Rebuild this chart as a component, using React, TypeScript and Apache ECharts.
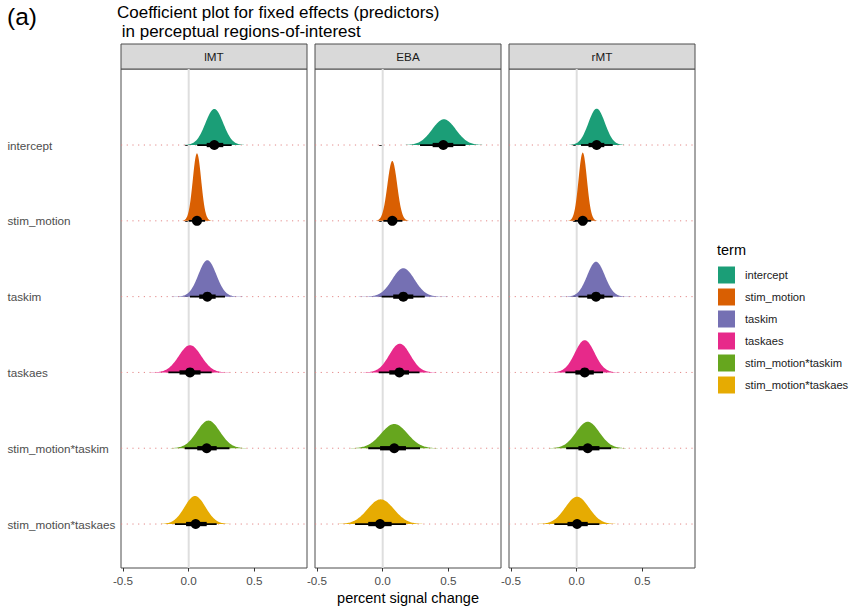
import React, { useEffect, useRef } from "react";
import * as echarts from "echarts";

const PANELS = ["lMT", "EBA", "rMT"];
const TERMS = ["intercept", "stim_motion", "taskim", "taskaes", "stim_motion*taskim", "stim_motion*taskaes"];
const TERM_COLORS = ["#1B9E77", "#D95F02", "#7570B3", "#E7298A", "#66A61E", "#E6AB02"];
const ROW_POS = [6, 5, 4, 3, 2, 1];
const X_TICKS = [-0.5, 0, 0.5];

// [panel][term] in TERMS order
const MEDIAN = [
  [0.195, 0.063, 0.142, 0.01, 0.137, 0.053],
  [0.461, 0.073, 0.157, 0.127, 0.088, -0.02],
  [0.152, 0.046, 0.147, 0.061, 0.084, 0.003],
];
const LO95 = [
  [0.065, 0.0, 0.01, -0.155, -0.03, -0.105],
  [0.284, 0.005, -0.008, -0.03, -0.11, -0.21],
  [0.033, -0.015, 0.013, -0.086, -0.08, -0.17],
];
const HI95 = [
  [0.327, 0.125, 0.276, 0.175, 0.31, 0.213],
  [0.63, 0.15, 0.32, 0.28, 0.284, 0.177],
  [0.274, 0.11, 0.274, 0.2, 0.262, 0.173],
];
const LO66 = [
  [0.137, 0.03, 0.08, -0.07, 0.065, -0.02],
  [0.38, 0.04, 0.08, 0.05, -0.02, -0.11],
  [0.09, 0.015, 0.08, -0.01, 0.013, -0.07],
];
const HI66 = [
  [0.263, 0.095, 0.205, 0.09, 0.213, 0.137],
  [0.537, 0.11, 0.233, 0.2, 0.177, 0.068],
  [0.21, 0.08, 0.21, 0.13, 0.173, 0.084],
];
const SLAB_MODE = [
  [0.195, 0.063, 0.142, 0.01, 0.15, 0.048],
  [0.466, 0.073, 0.157, 0.13, 0.088, -0.015],
  [0.152, 0.046, 0.147, 0.061, 0.084, 0.003],
];
const SLAB_SD = [
  [0.068, 0.032, 0.068, 0.085, 0.087, 0.08],
  [0.09, 0.037, 0.085, 0.08, 0.1, 0.1],
  [0.063, 0.032, 0.067, 0.075, 0.088, 0.09],
];
const SLAB_HEIGHT = [
  [0.475, 0.89, 0.48, 0.36, 0.365, 0.37],
  [0.34, 0.79, 0.375, 0.38, 0.32, 0.326],
  [0.48, 0.9, 0.46, 0.426, 0.35, 0.36],
];

const FONT = "'Liberation Sans', Arial, sans-serif";
const GRID_LEFT = [121, 315, 509];
const GRID_W = 186;
const GRID_TOP = 69;
const GRID_H = 499;
const X_MIN = -0.515;
const X_MAX = 0.9;
const Y_MIN = 0.42;
const Y_MAX = 7.003;

function renderTerm(params: any, api: any) {
  const base = api.value(0);
  const mode = api.value(1);
  const sd = api.value(2);
  const h = api.value(3);
  const med = api.value(4);
  const l66 = api.value(5);
  const h66 = api.value(6);
  const l95 = api.value(7);
  const h95 = api.value(8);
  const color = api.visual("color");
  const lo = mode - 4 * sd;
  const hi = mode + 4 * sd;
  const pts: number[][] = [api.coord([lo, base])];
  const N = 120;
  for (let i = 0; i <= N; i++) {
    const x = lo + ((hi - lo) * i) / N;
    const z = (x - mode) / sd;
    pts.push(api.coord([x, base + h * Math.exp(-0.5 * z * z)]));
  }
  pts.push(api.coord([hi, base]));
  const a95 = api.coord([l95, base]);
  const b95 = api.coord([h95, base]);
  const a66 = api.coord([l66, base]);
  const b66 = api.coord([h66, base]);
  const m = api.coord([med, base]);
  return {
    type: "group",
    children: [
      { type: "polygon", shape: { points: pts }, style: { fill: color, stroke: null } },
      { type: "line", shape: { x1: a95[0], y1: a95[1], x2: b95[0], y2: b95[1] }, style: { stroke: "#000", lineWidth: 1.8 } },
      { type: "line", shape: { x1: a66[0], y1: a66[1], x2: b66[0], y2: b66[1] }, style: { stroke: "#000", lineWidth: 4.3 } },
      { type: "circle", shape: { cx: m[0], cy: m[1], r: 5 }, style: { fill: "#000" } },
    ],
  };
}

export default function App() {
  const ref = useRef<HTMLDivElement>(null);
  useEffect(() => {
    document.body.style.margin = "0";
    const chart = echarts.init(ref.current!, null, { renderer: "svg" });

    const grids = PANELS.map((_, p) => ({
      left: GRID_LEFT[p],
      top: GRID_TOP,
      width: GRID_W,
      height: GRID_H,
      show: true,
      borderColor: "#4d4d4d",
      borderWidth: 1,
      backgroundColor: "transparent",
      outerBoundsMode: "none",
      containLabel: false,
    }));

    const xAxes = PANELS.map((_, p) => ({
      type: "value",
      gridIndex: p,
      min: X_MIN,
      max: X_MAX,
      axisLine: { show: false },
      splitLine: { show: false },
      axisTick: { show: true, length: 3.5, customValues: X_TICKS, lineStyle: { color: "#333", width: 1 } },
      axisLabel: {
        customValues: X_TICKS,
        formatter: (v: number) => v.toFixed(1),
        margin: 6,
        fontSize: 11.7,
        color: "#4d4d4d",
        fontFamily: FONT,
      },
      ...(p === 1
        ? {
            name: "percent signal change",
            nameLocation: "middle",
            nameGap: 21,
            nameTextStyle: { fontSize: 14.5, color: "#000", fontFamily: FONT },
          }
        : {}),
    }));

    const yAxes = PANELS.map((_, p) => ({
      type: "value",
      gridIndex: p,
      min: Y_MIN,
      max: Y_MAX,
      axisLine: { show: false },
      splitLine: { show: false },
      axisTick: { show: true, length: 3.5, customValues: ROW_POS, lineStyle: { color: "#333", width: 1 } },
      axisLabel:
        p === 0
          ? {
              show: true,
              customValues: ROW_POS,
              formatter: (v: number) => TERMS[ROW_POS.indexOf(v)] ?? "",
              align: "left",
              margin: 113.5,
              fontSize: 11.7,
              color: "#4d4d4d",
              fontFamily: FONT,
            }
          : { show: false },
    }));

    const series: any[] = [];
    PANELS.forEach((_, p) => {
      series.push({
        type: "custom",
        name: "_rows" + p,
        xAxisIndex: p,
        yAxisIndex: p,
        z: 1,
        silent: true,
        encode: { x: 0, y: 1 },
        data: ROW_POS.map((r) => [0, r]),
        renderItem: (params: any, api: any) => {
          const cs = params.coordSys;
          const y = api.coord([0, api.value(1)])[1];
          return {
            type: "line",
            shape: { x1: cs.x, y1: y, x2: cs.x + cs.width, y2: y },
            style: { stroke: "#e38888", lineWidth: 1, lineDash: [1.2, 4.5] },
          };
        },
      });
      series.push({
        type: "custom",
        name: "_zero" + p,
        xAxisIndex: p,
        yAxisIndex: p,
        z: 2,
        silent: true,
        encode: { x: 0, y: 1 },
        data: [[0, Y_MIN]],
        renderItem: (params: any, api: any) => {
          const cs = params.coordSys;
          const x = api.coord([api.value(0), Y_MIN])[0];
          return {
            type: "line",
            shape: { x1: x, y1: cs.y, x2: x, y2: cs.y + cs.height },
            style: { stroke: "#dedede", lineWidth: 2 },
          };
        },
      });
      TERMS.forEach((term, t) => {
        series.push({
          type: "custom",
          name: term,
          xAxisIndex: p,
          yAxisIndex: p,
          z: 3,
          encode: { x: 1, y: 0 },
          itemStyle: { color: TERM_COLORS[t] },
          data: [
            [
              ROW_POS[t],
              SLAB_MODE[p][t],
              SLAB_SD[p][t],
              SLAB_HEIGHT[p][t],
              MEDIAN[p][t],
              LO66[p][t],
              HI66[p][t],
              LO95[p][t],
              HI95[p][t],
            ],
          ],
          renderItem: renderTerm,
        });
      });
    });

    const graphics: any[] = [
      {
        type: "text",
        left: 7,
        top: 4,
        style: { text: "(a)", font: `24.5px ${FONT}`, fill: "#000" },
      },
      {
        type: "text",
        left: 717,
        top: 242,
        style: { text: "term", font: `14.5px ${FONT}`, fill: "#000" },
      },
    ];
    PANELS.forEach((name, p) => {
      graphics.push({
        type: "rect",
        shape: { x: GRID_LEFT[p], y: 44, width: GRID_W, height: 25 },
        style: { fill: "#d9d9d9", stroke: "#4d4d4d", lineWidth: 1 },
      });
      graphics.push({
        type: "text",
        x: GRID_LEFT[p] + GRID_W / 2,
        y: 56.5,
        style: {
          text: name,
          font: `11.7px ${FONT}`,
          fill: "#1a1a1a",
          textAlign: "center",
          textVerticalAlign: "middle",
        },
      });
    });

    chart.setOption({
      animation: false,
      backgroundColor: "#fff",
      title: {
        text: "Coefficient plot for fixed effects (predictors)\n in perceptual regions-of-interest",
        left: 117,
        top: 3.5,
        padding: 0,
        textStyle: { fontSize: 17, fontWeight: "normal", color: "#000", lineHeight: 18.5, fontFamily: FONT },
      },
      legend: {
        orient: "vertical",
        left: 718,
        top: 266.5,
        padding: 0,
        icon: "rect",
        itemWidth: 17,
        itemHeight: 17,
        itemGap: 5,
        selectedMode: false,
        textStyle: { fontSize: 11.2, color: "#1a1a1a", fontFamily: FONT, padding: [0, 0, 0, 5] },
        data: TERMS.map((t, i) => ({ name: t, itemStyle: { color: TERM_COLORS[i], borderWidth: 0 } })),
      },
      grid: grids,
      xAxis: xAxes,
      yAxis: yAxes,
      series,
      graphic: graphics,
    });
    return () => chart.dispose();
  }, []);
  return <div ref={ref} style={{ width: 851, height: 606 }} />;
}
